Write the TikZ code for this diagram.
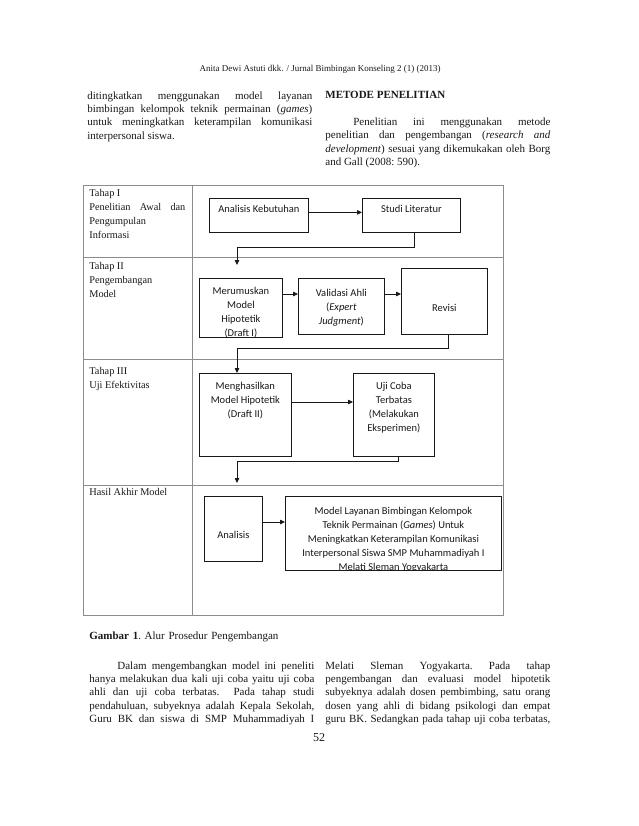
\documentclass[tikz,border=0pt]{standalone}
\usepackage{fontspec}
\setmainfont{Liberation Serif}
\newfontfamily\boxfont{Carlito}
\usetikzlibrary{arrows.meta}
\definecolor{ink}{RGB}{25,25,25}
\definecolor{rule}{RGB}{140,140,140}
\tikzset{
  every picture/.style={color=ink, line width=0.75pt},
  head/.style={font=\fontsize{9}{11}\selectfont, inner sep=0pt},
  body/.style={font=\fontsize{11}{13.4}\selectfont\frenchspacing, text width=225pt, align=justify, inner sep=0pt, anchor=north west},
  stage/.style={font=\fontsize{10.3}{14}\selectfont, text width=96pt, align=justify, inner sep=0pt, anchor=north west},
  grid/.style={draw=rule, line width=0.8pt},
  box/.style={draw=ink, inner sep=0pt, anchor=north west},
  inbox/.style={font=\boxfont\fontsize{10.5}{14}\selectfont, align=center, inner sep=0pt, minimum size=0pt, draw=none},
  txt/.style 2 args={path picture={\node[inbox, anchor=north] at ([yshift=-#1]path picture bounding box.north) {#2};}},
  flow/.style={-{Triangle[length=5pt,width=4.5pt]}, line width=0.75pt},
}

\begin{document}
\begin{tikzpicture}[x=1pt, y=-1pt]
  \fill[white] (0,0) rectangle (638,826);
  \useasboundingbox (0,0) rectangle (638,826);

  % running head and the text above the figure
  \node[head] (runhead) at (320,69) {Anita Dewi Astuti dkk. / Jurnal Bimbingan Konseling 2 (1) (2013)};
  \node[body] (introleft) at (87,91) {ditingkatkan menggunakan model layanan\linebreak bimbingan kelompok teknik permainan (\textit{games})\linebreak untuk meningkatkan keterampilan komunikasi\linebreak interpersonal siswa.};
  \node[body] (introright) at (325,91) {\textbf{METODE PENELITIAN}\\[13.4pt]\hspace*{28pt}Penelitian ini menggunakan metode\linebreak penelitian dan pengembangan (\textit{research and}\linebreak \textit{development}) sesuai yang dikemukakan oleh Borg\linebreak and Gall (2008: 590).};

  % the table frame
  \draw[grid] (83,185) rectangle (503,615);
  \draw[grid] (192,185) -- (192,615);
  \foreach \y in {257,359,485}
    \draw[grid] (83,\y) -- (503,\y);

  \node[stage] (tahap1) at (89,189) {Tahap I\\Penelitian Awal dan\linebreak Pengumpulan\\Informasi};
  \node[stage] (tahap2) at (89,262) {Tahap II\\Pengembangan\\Model};
  \node[stage] (tahap3) at (89,367) {Tahap III\\Uji Efektivitas};
  \node[stage] (hasil) at (89,488) {Hasil Akhir Model};

  % the boxes of each stage
  \node[box, minimum width=99pt, minimum height=34pt, txt={6.5pt}{Analisis Kebutuhan}] (ak) at (209,198) {};
  \node[box, minimum width=98pt, minimum height=34pt, txt={6.5pt}{Studi Literatur}] (sl) at (362,198) {};
  \node[box, minimum width=83pt, minimum height=59pt, txt={8pt}{Merumuskan\\Model\\Hipotetik\\(Draft I)}] (mer) at (199,278) {};
  \node[box, minimum width=86pt, minimum height=56pt, txt={10pt}{Validasi Ahli\\(\textit{Expert}\\\textit{Judgment})}] (val) at (298,278) {};
  \node[box, minimum width=86pt, minimum height=66pt, txt={36pt}{Revisi}] (rev) at (401,268) {};
  \node[box, minimum width=92pt, minimum height=83pt, txt={8.5pt}{Menghasilkan\\Model Hipotetik\\(Draft II)}] (meng) at (199,373) {};
  \node[box, minimum width=81pt, minimum height=83pt, txt={8.5pt}{Uji Coba\\Terbatas\\(Melakukan\\Eksperimen)}] (uji) at (353,373) {};
  \node[box, minimum width=58pt, minimum height=65pt, txt={34.5pt}{Analisis}] (ana) at (204,496) {};
  \node[box, minimum width=216pt, minimum height=74pt, txt={10pt}{Model Layanan Bimbingan Kelompok\\Teknik Permainan (\textit{Games}) Untuk\\Meningkatkan Keterampilan Komunikasi\\Interpersonal Siswa SMP Muhammadiyah I\\Melati Sleman Yogyakarta}] (mod) at (285,496) {};

  % arrows; the downward ones all drop on one lane
  \coordinate (lane) at (237,0);
  \coordinate (vr) at ([yshift=-16pt]val.north east);
  \draw[flow] ([yshift=3pt]ak.east) -- ([yshift=3pt]sl.west);
  \draw[flow, shorten >=13pt] ([xshift=3pt]sl.south) -- ++(0,15) -| (lane |- mer.north);
  \draw[flow] ([yshift=-16pt]mer.north east) -- ([yshift=-16pt]val.north west);
  \draw[flow] (vr) -- (vr -| rev.west);
  \draw[flow] ([xshift=4pt]rev.south) -- ++(0,14) -| (lane |- meng.north);
  \draw[flow] ([yshift=-29pt]meng.north east) -- ([yshift=-29pt]uji.north west);
  \draw[flow, shorten >=13pt] ([xshift=4pt]uji.south) -- ++(0,5) -| (lane |- ana.north);
  \draw[flow] ([yshift=-26pt]ana.north east) -- ([yshift=-26pt]mod.north west);

  % caption and the text below
  \node[body, text width=300pt, align=left] (caption) at (89,631) {\textbf{Gambar 1}. Alur Prosedur Pengembangan};
  \node[body] (outroleft) at (89,661) {\parfillskip=0pt\hspace*{28pt}Dalam mengembangkan model ini peneliti\linebreak hanya melakukan dua kali uji coba yaitu uji coba\linebreak ahli dan uji coba terbatas.\ \ Pada tahap studi\linebreak pendahuluan, subyeknya adalah Kepala Sekolah,\linebreak Guru BK dan siswa di SMP Muhammadiyah I\par};
  \node[body] (outroright) at (325,661) {\parfillskip=0pt Melati Sleman Yogyakarta. Pada tahap\linebreak pengembangan dan evaluasi model hipotetik\linebreak subyeknya adalah dosen pembimbing, satu orang\linebreak dosen yang ahli di bidang psikologi dan empat\linebreak guru BK. Sedangkan pada tahap uji coba terbatas,\par};
  \node[head, font=\fontsize{12}{14}\selectfont] (pageno) at (319,738) {52};
\end{tikzpicture}
\end{document}
